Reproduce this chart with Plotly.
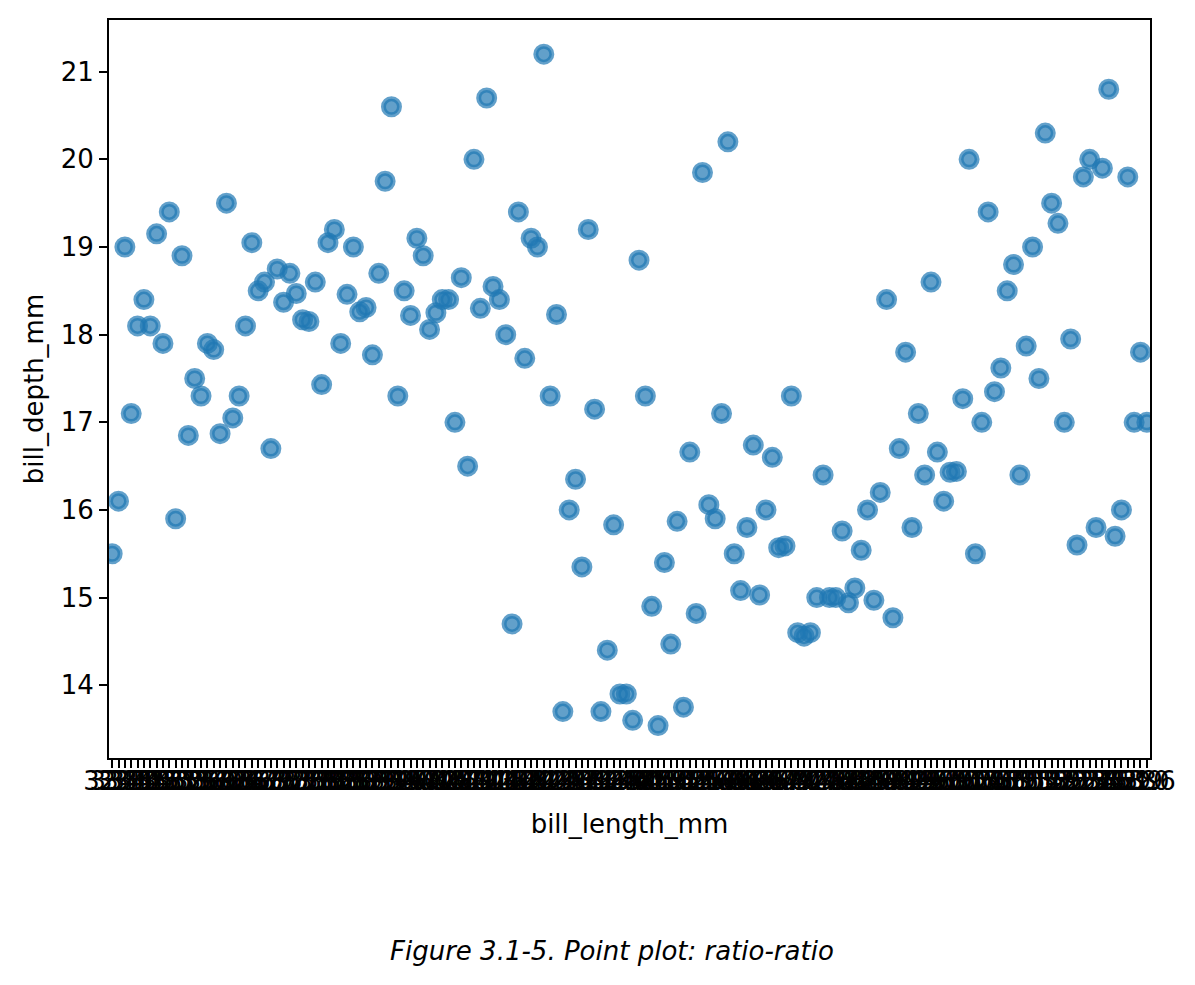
import plotly.graph_objects as go

# unique bill lengths (categorical x) and mean bill depth per length
bill_length = [
    32.1, 33.1, 33.5, 34.0, 34.1, 34.4, 34.5, 34.6, 35.0, 35.1, 35.2, 35.3,
    35.5, 35.6, 35.7, 35.9, 36.0, 36.2, 36.3, 36.4, 36.5, 36.6, 36.7, 36.8,
    36.9, 37.0, 37.2, 37.3, 37.5, 37.6, 37.7, 37.8, 37.9, 38.1, 38.2, 38.3,
    38.5, 38.6, 38.7, 38.8, 38.9, 39.0, 39.1, 39.2, 39.3, 39.5, 39.6, 39.7,
    39.8, 40.1, 40.2, 40.3, 40.5, 40.6, 40.7, 40.8, 40.9, 41.0, 41.1, 41.3,
    41.4, 41.5, 41.6, 41.7, 41.8, 42.0, 42.1, 42.2, 42.3, 42.4, 42.5, 42.6,
    42.7, 42.8, 42.9, 43.1, 43.2, 43.3, 43.4, 43.5, 43.6, 43.8, 44.0, 44.1,
    44.4, 44.5, 44.9, 45.0, 45.1, 45.2, 45.3, 45.4, 45.5, 45.6, 45.7, 45.8,
    45.9, 46.0, 46.1, 46.2, 46.3, 46.4, 46.5, 46.6, 46.7, 46.8, 46.9, 47.0,
    47.2, 47.3, 47.4, 47.5, 47.6, 47.7, 47.8, 48.1, 48.2, 48.4, 48.5, 48.6,
    48.7, 48.8, 49.0, 49.1, 49.2, 49.3, 49.4, 49.5, 49.6, 49.7, 49.8, 49.9,
    50.0, 50.1, 50.2, 50.3, 50.4, 50.5, 50.6, 50.7, 50.8, 50.9, 51.0, 51.1,
    51.3, 51.4, 51.5, 51.7, 51.9, 52.0, 52.1, 52.2, 52.5, 52.7, 52.8, 53.4,
    53.5, 54.2, 54.3, 55.1, 55.8, 55.9, 58.0, 59.6,
]
bill_depth = [
    15.5, 16.1, 19.0, 17.1, 18.1, 18.4, 18.1, 19.15, 17.9, 19.4, 15.9, 18.9,
    16.85, 17.5, 17.3, 17.9, 17.83, 16.87, 19.5, 17.05, 17.3, 18.1, 19.05, 18.5,
    18.6, 16.7, 18.75, 18.37, 18.7, 18.47, 18.17, 18.15, 18.6, 17.43, 19.05, 19.2,
    17.9, 18.46, 19.0, 18.26, 18.31, 17.77, 18.7, 19.75, 20.6, 17.3, 18.5, 18.22,
    19.1, 18.9, 18.06, 18.25, 18.4, 18.4, 17.0, 18.65, 16.5, 20.0, 18.3, 20.7,
    18.55, 18.4, 18.0, 14.7, 19.4, 17.73, 19.1, 19.0, 21.2, 17.3, 18.23, 13.7,
    16.0, 16.35, 15.35, 19.2, 17.15, 13.7, 14.4, 15.83, 13.9, 13.9, 13.6, 18.85,
    17.3, 14.9, 13.54, 15.4, 14.47, 15.87, 13.75, 16.66, 14.82, 19.85, 16.06, 15.9,
    17.1, 20.2, 15.5, 15.08, 15.8, 16.74, 15.03, 16.0, 16.6, 15.57, 15.59, 17.3,
    14.6, 14.56, 14.6, 15.0, 16.4, 15.0, 15.0, 15.76, 14.94, 15.11, 15.54, 16.0,
    14.97, 16.2, 18.4, 14.77, 16.7, 17.8, 15.8, 17.1, 16.4, 18.6, 16.66, 16.1,
    16.43, 16.44, 17.27, 20.0, 15.5, 17.0, 19.4, 17.35, 17.62, 18.5, 18.8, 16.4,
    17.87, 19.0, 17.5, 20.3, 19.5, 19.27, 17.0, 17.95, 15.6, 19.8, 20.0, 15.8,
    19.9, 20.8, 15.7, 16.0, 19.8, 17.0, 17.8, 17.0,
]
y_ticks = [14, 15, 16, 17, 18, 19, 20, 21]

labels = [f"{v:.1f}" for v in bill_length]
FONT = "DejaVu Sans, Verdana, sans-serif"
BLUE = "rgba(31,119,180,0.7)"

fig = go.Figure(go.Scatter(
    x=labels, y=bill_depth, mode="markers",
    marker=dict(size=16, color=BLUE, line=dict(color=BLUE, width=5)),
    showlegend=False,
))

axis_common = dict(
    showline=True, linecolor="black", linewidth=2, mirror=True,
    ticks="outside", ticklen=8, tickwidth=2, tickcolor="black",
    showgrid=False, zeroline=False,
    tickfont=dict(family=FONT, size=26, color="black"),
)

fig.update_xaxes(
    type="category", range=[-0.5, len(labels) - 0.5],
    tickmode="array", tickvals=labels, ticktext=labels, tickangle=0,
    ticklabelstandoff=-9,
    title=dict(text="bill_length_mm", standoff=20,
               font=dict(family=FONT, size=26, color="black")),
    **axis_common,
)
fig.update_yaxes(
    range=[13.17, 21.59], tickmode="array", tickvals=y_ticks,
    title=dict(text="bill_depth_mm", standoff=10,
               font=dict(family=FONT, size=26, color="black")),
    **axis_common,
)

fig.add_annotation(
    text="<i>Figure 3.1-5. Point plot: ratio-ratio</i>",
    xref="paper", yref="paper", x=0.483, y=-0.261,
    xanchor="center", yanchor="middle", showarrow=False,
    font=dict(family=FONT, size=26, color="black"),
)

# page body adds an 8px margin, so the figure is a bit smaller than the window
fig.update_layout(
    width=1187, height=977,
    margin=dict(l=101, r=45, t=10, b=227),
    paper_bgcolor="white", plot_bgcolor="white",
    font=dict(family=FONT, color="black"),
)

fig.write_html("out.html")
